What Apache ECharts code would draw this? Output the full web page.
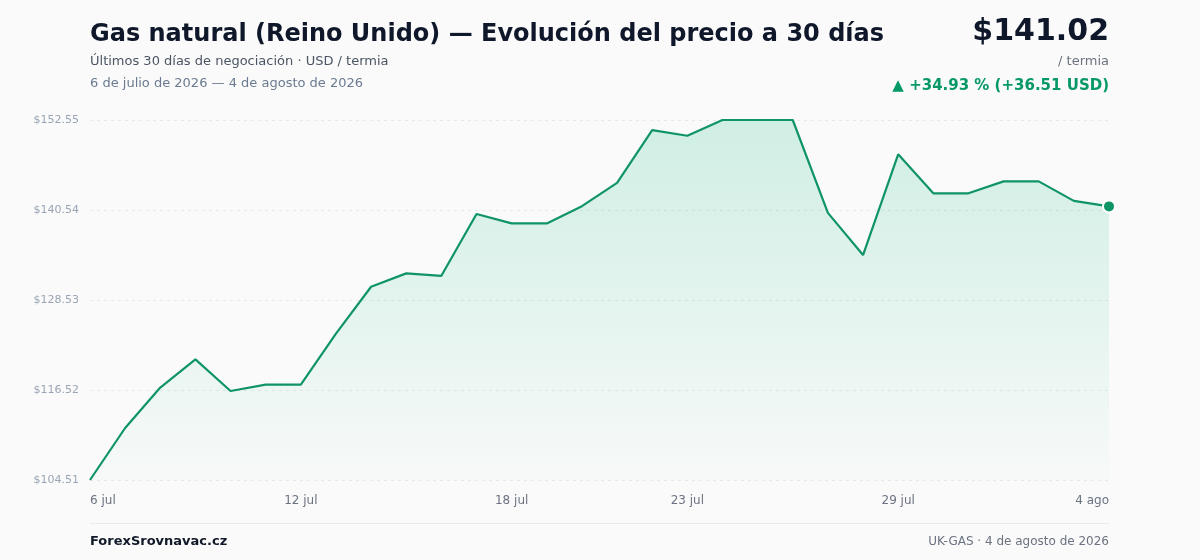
<!DOCTYPE html>
<html>
<head>
    <meta charset="utf-8">
    <script src="https://cdn.jsdelivr.net/npm/echarts@6/dist/echarts.min.js"></script>
    <style>
    html, body { margin: 0; padding: 0; background: #fafafa; }
    #main { width: 1200px; height: 560px; }
    </style>
    <title>Gas natural (Reino Unido)</title>
</head>
<body>
    <div id="main"></div>
    <script type="text/javascript">

        // 30 días naturales, 6 jul - 4 ago 2026
        var days = ['6 jul','7 jul','8 jul','9 jul','10 jul','11 jul','12 jul','13 jul','14 jul','15 jul',
                    '16 jul','17 jul','18 jul','19 jul','20 jul','21 jul','22 jul','23 jul','24 jul','25 jul',
                    '26 jul','27 jul','28 jul','29 jul','30 jul','31 jul','1 ago','2 ago','3 ago','4 ago'];
        var prices = [104.51, 111.45, 116.85, 120.60, 116.39, 117.23, 117.23, 124.05, 130.30, 132.08,
                      131.76, 140.00, 138.75, 138.75, 141.05, 144.16, 151.20, 150.45, 152.55, 152.55,
                      152.55, 140.16, 134.53, 147.97, 142.77, 142.77, 144.36, 144.36, 141.76, 141.02];
        var shownLabels = [0, 6, 12, 17, 23, 29];
        var yTicks = [104.51, 116.52, 128.53, 140.54, 152.55];

        var green = '#0f9466';
        var font = 'DejaVu Sans';

        var myChart = echarts.init(document.getElementById('main'));

        var seriesData = prices.map(function (v, i) {
            if (i === prices.length - 1) {
                return { value: v, symbol: 'circle', symbolSize: 12,
                         itemStyle: { color: green, borderColor: '#ffffff', borderWidth: 2 } };
            }
            return v;
        });

        option = {
            backgroundColor: '#fafafa',
            textStyle: { fontFamily: font },
            animation: false,
            grid: { left: 90, right: 91, top: 120, bottom: 80 },
            xAxis: {
                type: 'category',
                data: days,
                boundaryGap: false,
                axisLine: { show: false },
                axisTick: { show: false },
                axisLabel: {
                    color: '#6b7280',
                    fontSize: 12,
                    margin: 15,
                    alignMinLabel: 'left',
                    alignMaxLabel: 'right',
                    interval: function (index) { return shownLabels.indexOf(index) >= 0; }
                },
                splitLine: { show: false }
            },
            yAxis: {
                type: 'value',
                min: yTicks[0],
                max: yTicks[yTicks.length - 1],
                interval: yTicks[1] - yTicks[0],
                axisLine: { show: false },
                axisTick: { show: false },
                axisLabel: {
                    color: '#9aa5b4',
                    fontSize: 11,
                    margin: 11,
                    formatter: function (v) { return '$' + v.toFixed(2); }
                },
                splitLine: { lineStyle: { color: '#e6e8ec', type: [3, 4], width: 1 } }
            },
            series: [{
                type: 'line',
                data: seriesData,
                symbol: 'none',
                showAllSymbol: true,
                lineStyle: { color: green, width: 2.2 },
                itemStyle: { color: green },
                areaStyle: {
                    color: new echarts.graphic.LinearGradient(0, 0, 0, 1, [
                        { offset: 0, color: 'rgba(16,185,129,0.26)' },
                        { offset: 1, color: 'rgba(16,185,129,0.02)' }
                    ])
                }
            }],
            graphic: [
                { type: 'text', left: 90, top: 23,
                  style: { text: 'Gas natural (Reino Unido) — Evolución del precio a 30 días',
                           font: 'bold 24px "DejaVu Sans"', fill: '#0f172a' } },
                { type: 'text', left: 90, top: 55,
                  style: { text: 'Últimos 30 días de negociación · USD / termia',
                           font: '13px "DejaVu Sans"', fill: '#4b5563' } },
                { type: 'text', left: 90, top: 77,
                  style: { text: '6 de julio de 2026 — 4 de agosto de 2026',
                           font: '13px "DejaVu Sans"', fill: '#6b7a90' } },
                { type: 'text', right: 91, top: 17,
                  style: { text: '$141.02', font: 'bold 30px "DejaVu Sans"', fill: '#0f172a' } },
                { type: 'text', right: 91, top: 55,
                  style: { text: '/ termia', font: '13px "DejaVu Sans"', fill: '#6b7280' } },
                { type: 'text', right: 91, top: 79,
                  style: { text: '▲ +34.93 % (+36.51 USD)', font: 'bold 15px "DejaVu Sans"', fill: '#079868' } },
                { type: 'rect', left: 90, top: 523,
                  shape: { width: 1019, height: 1 }, style: { fill: '#e8eaee' } },
                { type: 'text', left: 90, top: 535,
                  style: { text: 'ForexSrovnavac.cz', font: 'bold 13px "DejaVu Sans"', fill: '#111827' } },
                { type: 'text', right: 91, top: 536,
                  style: { text: 'UK-GAS · 4 de agosto de 2026', font: '12px "DejaVu Sans"', fill: '#6b7280' } }
            ]
        };
        myChart.setOption(option);

    </script>
</body>
</html>
